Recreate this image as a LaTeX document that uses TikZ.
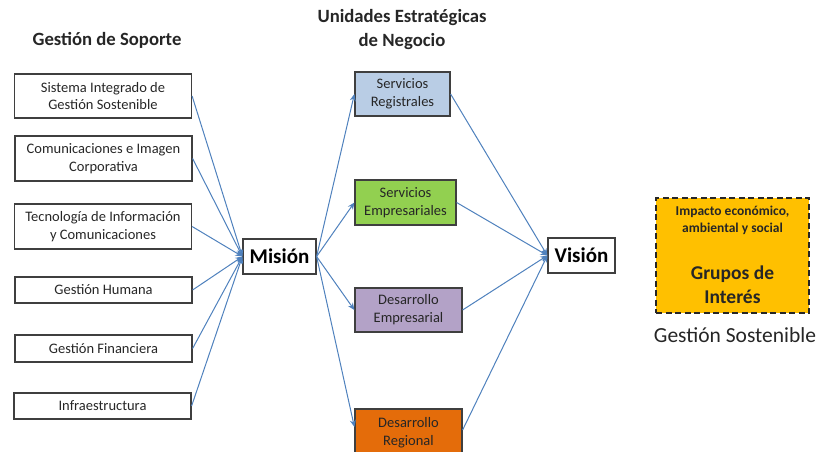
\documentclass[tikz,border=0pt]{standalone}
\usepackage{fontspec}
\setmainfont{Carlito}
\usetikzlibrary{arrows.meta}
\definecolor{conn}{HTML}{4F81BD}
\definecolor{edge}{HTML}{3F3F3F}
\definecolor{cblue}{HTML}{B9CDE5}
\definecolor{cgreen}{HTML}{92D050}
\definecolor{cpurple}{HTML}{B3A2C7}
\definecolor{corange}{HTML}{E46C0A}
\definecolor{cgold}{HTML}{FFC000}
\tikzset{
  box/.style={draw=edge, line width=1.2pt, rectangle, align=center, inner sep=0pt,
    font=\fontsize{14.5}{17.8}\selectfont, text=black!85},
  bigbox/.style={draw=edge, line width=1.2pt, rectangle, inner sep=0pt,
    font=\bfseries\fontsize{21}{25}\selectfont},
  title/.style={align=center, font=\bfseries\fontsize{18.7}{24}\selectfont, text=black!85},
  conn/.style={draw=conn, line width=1pt, -{Stealth[length=7pt,width=6pt]}},
}
\begin{document}
\begin{tikzpicture}[x=1pt,y=-1pt]
\useasboundingbox (0,0) rectangle (820,452);
\clip (0,0) rectangle (820,452);
% titles
\node[title] (t1) at (107,40) {Gestión de Soporte};
\node[title] (t2) at (402,30) {Unidades Estratégicas\\de Negocio};
% support boxes
\node[box, minimum width=177pt, minimum height=44pt] (s1) at (103,96) {Sistema Integrado de\\Gestión Sostenible};
\node[box, minimum width=177pt, minimum height=45pt] (s2) at (103.5,158.5) {Comunicaciones e Imagen\\Corporativa};
\node[box, minimum width=177pt, minimum height=45pt] (s3) at (103,226.5) {Tecnología de Información\\y Comunicaciones};
\node[box, minimum width=177pt, minimum height=26pt] (s4) at (103.5,290) {Gestión Humana};
\node[box, minimum width=177pt, minimum height=27pt] (s5) at (103.5,348.5) {Gestión Financiera};
\node[box, minimum width=177pt, minimum height=26pt] (s6) at (102.5,406) {Infraestructura};
% mission / vision
\node[bigbox, minimum width=73pt, minimum height=35pt] (mi) at (279.5,256.5) {Misión};
\node[bigbox, minimum width=67pt, minimum height=35pt] (vi) at (581.5,255.5) {Visión};
% business units
\node[box, fill=cblue, minimum width=95pt, minimum height=44pt] (u1) at (402.5,94) {Servicios\\Registrales};
\node[box, fill=cgreen, minimum width=101pt, minimum height=45pt] (u2) at (405.5,202.5) {Servicios\\Empresariales};
\node[box, fill=cpurple, minimum width=107pt, minimum height=44pt] (u3) at (408.5,310) {Desarrollo\\Empresarial};
\node[box, fill=corange, minimum width=107pt, minimum height=48pt] (u4) at (408.5,433) {Desarrollo\\Regional};
% sustainability box
\node[draw=black!85, fill=cgold, line width=2pt, dash pattern=on 6pt off 3.5pt,
  rectangle, minimum width=153pt, minimum height=115pt] (g) at (732.5,255.5) {};
\node[align=center, font=\bfseries\fontsize{13.5}{17}\selectfont, text=black!85] (gi) at (732.5,220.5) {Impacto económico,\\ambiental y social};
\node[align=center, font=\bfseries\fontsize{19.5}{24.5}\selectfont, text=black!85] (gg) at (732.5,284.5) {Grupos de\\Interés};
\node[font=\fontsize{21.5}{26}\selectfont, text=black!85] (gs) at (735,335) {Gestión Sostenible};
% connectors
\foreach \s in {s1,s2,s3,s4,s5,s6} \draw[conn] (\s.east) -- (mi.west);
\foreach \u in {u1,u2,u3} \draw[conn] (mi.east) -- (\u.west);
\draw[conn] (mi.east) -- (u4.west |- 0,427);
\foreach \u in {u1,u2,u3} \draw[conn] (\u.east) -- (vi.west);
\draw[conn] (u4.east |- 0,430) -- (vi.west);
\end{tikzpicture}
\end{document}
